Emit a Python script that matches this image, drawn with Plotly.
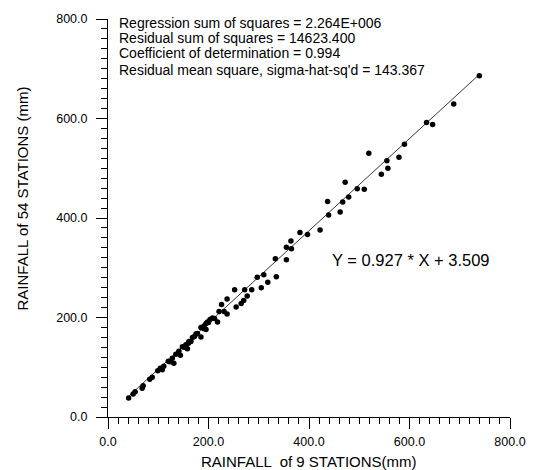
import plotly.graph_objects as go

# Rainfall (mm): 9-station mean (x) vs 54-station mean (y)
rain_9 = [739, 688, 634, 646, 590, 519, 579, 555, 557, 544, 472, 496, 510, 479, 437,
          467, 462, 439, 422, 397, 382, 364, 355, 365, 333, 355, 335, 310, 297, 318,
          305, 286, 272, 252, 277, 270, 265, 237, 226, 255, 231, 237, 208, 203, 198,
          195, 218, 191, 221, 185, 195, 175, 185, 168, 161, 155, 148, 158, 141, 135,
          144, 128, 123, 131, 111, 104, 99, 108, 88, 83, 70, 68, 54, 50, 41,
          140, 152, 165, 172, 178, 190, 200, 212, 120, 160]
rain_54 = [686, 629, 592, 588, 548, 530, 522, 515, 500, 488, 472, 459, 458, 442, 433,
           432, 412, 406, 376, 367, 371, 354, 341, 338, 318, 316, 282, 286, 281, 271,
           260, 256, 256, 256, 243, 234, 228, 237, 226, 221, 212, 207, 199, 196, 191,
           188, 191, 183, 212, 180, 176, 167, 161, 160, 152, 145, 141, 137, 132, 126,
           124, 118, 111, 108, 102, 98, 93, 95, 80, 76, 63, 58, 51, 46, 38,
           128, 140, 152, 162, 168, 178, 190, 198, 112, 148]

slope = 0.927
intercept = 3.509

stats_lines = [
    "Regression sum of squares = 2.264E+006",
    "Residual sum of squares = 14623.400",
    "Coefficient of determination = 0.994",
    "Residual mean square, sigma-hat-sq'd = 143.367",
]
stats_y = [791, 762, 731, 698]
equation = "Y = 0.927 * X + 3.509"

x_title = "RAINFALL  of 9 STATIONS(mm)"
y_title = "RAINFALL of 54 STATIONS (mm)"

FONT = "Arial, Liberation Sans, sans-serif"

x_line = [min(rain_9), max(rain_9)]
y_line = [slope * v + intercept for v in x_line]

fig = go.Figure()
fig.add_trace(go.Scatter(x=x_line, y=y_line, mode="lines",
                         line=dict(color="#222", width=0.9), hoverinfo="skip"))
fig.add_trace(go.Scatter(x=rain_9, y=rain_54, mode="markers",
                         marker=dict(color="black", size=5.5)))

for txt, yy in zip(stats_lines, stats_y):
    fig.add_annotation(x=18, y=yy, xref="x", yref="y", text=txt, showarrow=False,
                       xanchor="left", yanchor="middle",
                       font=dict(family=FONT, size=14, color="black"))
fig.add_annotation(x=603, y=315, xref="x", yref="y", text=equation, showarrow=False,
                   xanchor="center", yanchor="middle",
                   font=dict(family=FONT, size=16.5, color="black"))

fig.add_annotation(x=0.5, y=-0.112, xref="paper", yref="paper", text=x_title,
                   showarrow=False, xanchor="center", yanchor="middle",
                   font=dict(family=FONT, size=15, color="black"))
fig.add_annotation(x=-0.213, y=0.55, xref="paper", yref="paper", text=y_title,
                   showarrow=False, textangle=-90, xanchor="center", yanchor="middle",
                   font=dict(family=FONT, size=15, color="black"))

axis = dict(range=[0, 800], dtick=200, tickformat=".1f", showgrid=False,
            zeroline=False, showline=True, linecolor="black", linewidth=1,
            ticks="outside", ticklen=11, tickcolor="black", tickwidth=1,
            tickfont=dict(family=FONT, size=12.5, color="black"),
            minor=dict(dtick=20, ticks="outside", ticklen=6, tickcolor="black",
                       tickwidth=1.3))

fig.update_layout(
    width=538, height=470,
    margin=dict(l=108, r=27, t=13, b=53),
    plot_bgcolor="white", paper_bgcolor="white",
    showlegend=False,
    xaxis=dict(axis, ticklabelstandoff=2),
    yaxis=dict(axis, ticklabelstandoff=6),
)
fig.write_html("out.html", config={"displayModeBar": False},
               post_script="document.body.style.margin='0';document.body.style.overflow='hidden';")
